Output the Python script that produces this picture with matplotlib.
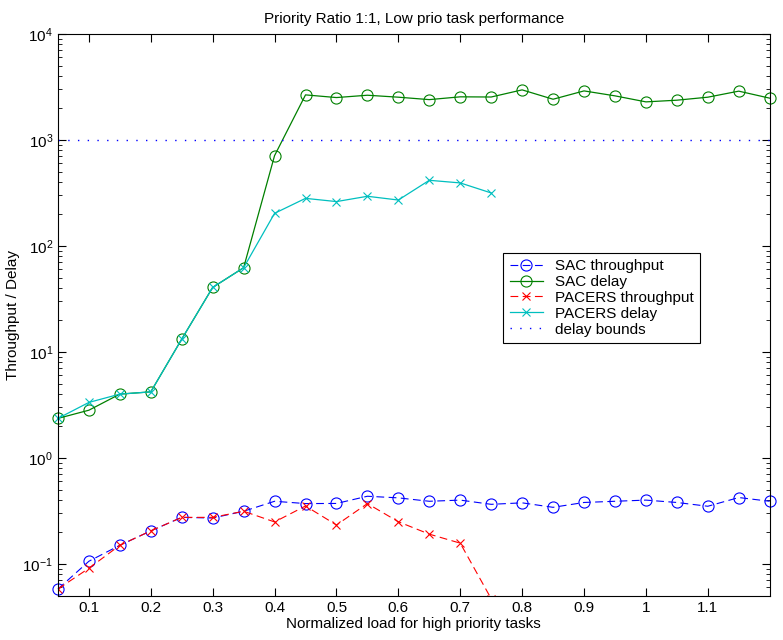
import matplotlib
matplotlib.use("Agg")
import matplotlib.pyplot as plt
import numpy as np

plt.rcParams['font.family'] = ['Liberation Sans', 'DejaVu Sans']

# load values (x axis)
load = [0.05, 0.1, 0.15, 0.2, 0.25, 0.3, 0.35, 0.4, 0.45, 0.5, 0.55, 0.6,
        0.65, 0.7, 0.75, 0.8, 0.85, 0.9, 0.95, 1.0, 1.05, 1.1, 1.15, 1.2]

sac_thr = [0.058, 0.106, 0.150, 0.205, 0.275, 0.271, 0.314, 0.39, 0.371, 0.372,
           0.435, 0.42, 0.39, 0.40, 0.365, 0.377, 0.342, 0.38, 0.39, 0.40,
           0.38, 0.35, 0.423, 0.39]
sac_delay = [2.36, 2.82, 4.0, 4.2, 13.2, 40.6, 62.3, 711, 2660, 2510, 2640, 2530,
             2400, 2550, 2540, 2966, 2420, 2900, 2605, 2285, 2370, 2530, 2885, 2477]

pacers_load = load[:15]
pacers_thr = [0.058, 0.091, 0.150, 0.205, 0.275, 0.275, 0.314, 0.249, 0.352,
              0.233, 0.371, 0.25, 0.191, 0.157, 0.047]
pacers_delay = [2.36, 3.34, 4.0, 4.2, 13.2, 40.6, 62.3, 203, 281, 262, 294, 271,
                416, 393, 316]

delay_bound = 1000

xticks = [0.1, 0.2, 0.3, 0.4, 0.5, 0.6, 0.7, 0.8, 0.9, 1.0, 1.1]
xticklabels = ['0.1', '0.2', '0.3', '0.4', '0.5', '0.6', '0.7', '0.8', '0.9', '1', '1.1']

fig = plt.figure(figsize=(7.83, 6.4), dpi=100)
ax = fig.add_axes([0.074, 0.069, 0.909, 0.878])

ax.plot(load, sac_thr, color='blue', ls=(0, (7, 4)), lw=0.8, marker='o',
        ms=8, mfc='none', mew=0.8, label='SAC throughput', clip_on=False)
ax.plot(load, sac_delay, color='green', ls='-', lw=0.9, marker='o',
        ms=8, mfc='none', mew=0.8, label='SAC delay', clip_on=False)
ax.plot(pacers_load, pacers_thr, color='red', ls=(0, (7, 4)), lw=0.8, marker='x',
        ms=6, mew=0.8, label='PACERS throughput')
ax.plot(pacers_load, pacers_delay, color='#00bfbf', ls='-', lw=0.9, marker='x',
        ms=6, mew=0.8, label='PACERS delay', clip_on=False)
ax.plot([0.05, 1.2], [delay_bound, delay_bound], color='blue', ls=(0, (1, 6)),
        lw=1.0, label='delay bounds')

ax.set_yscale('log')
ax.set_xlim(0.05, 1.2)
ax.set_ylim(0.05, 1e4)
ax.set_xticks(xticks)
ax.set_xticklabels(xticklabels)
ax.tick_params(which='both', direction='in', top=True, right=True, labelsize=11)
ax.tick_params(which='major', length=6)
ax.tick_params(which='minor', length=3)

ax.set_title('Priority Ratio 1:1, Low prio task performance', fontsize=11, pad=8)
ax.set_xlabel('Normalized load for high priority tasks', fontsize=11, labelpad=2)
ax.set_ylabel('Throughput / Delay', fontsize=11, labelpad=2)

leg = ax.legend(loc='upper left', bbox_to_anchor=(0.626, 0.61), fontsize=11,
                fancybox=False, framealpha=1, edgecolor='black',
                borderaxespad=0, handlelength=2.2, labelspacing=0.12)
leg.get_frame().set_linewidth(0.8)

fig.savefig('out.png', dpi=100)
